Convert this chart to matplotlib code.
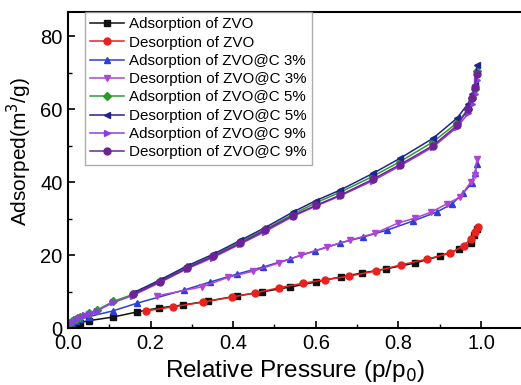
import matplotlib
matplotlib.use("Agg")
import matplotlib.pyplot as plt
from matplotlib.ticker import MultipleLocator, FormatStrFormatter

plt.rcParams['font.family'] = ['Liberation Sans', 'DejaVu Sans']

# ZVO
p_ads_zvo = [0.003, 0.01, 0.02, 0.03, 0.05, 0.109, 0.167, 0.22, 0.278, 0.34, 0.41, 0.47, 0.537, 0.60,
             0.66, 0.713, 0.77, 0.84, 0.90, 0.947, 0.976, 0.983, 0.99]
v_ads_zvo = [0.4, 0.8, 1.2, 1.5, 2.0, 3.0, 4.4, 5.5, 6.3, 7.4, 8.8, 9.9, 11.2, 12.6,
             14.0, 15.1, 16.2, 17.8, 19.7, 21.6, 23.3, 25.5, 27.0]
p_des_zvo = [0.993, 0.985, 0.975, 0.958, 0.925, 0.87, 0.806, 0.745, 0.68, 0.622, 0.57, 0.51, 0.453,
             0.397, 0.327, 0.254, 0.19]
v_des_zvo = [27.8, 26.2, 24.5, 22.5, 20.5, 18.9, 17.3, 15.6, 14.2, 13.2, 12.3, 11.0, 9.6,
             8.5, 7.1, 5.8, 4.7]

# ZVO@C 3%
p_ads_c3 = [0.003, 0.01, 0.02, 0.03, 0.05, 0.109, 0.167, 0.281, 0.344, 0.41, 0.472, 0.537, 0.598,
            0.659, 0.714, 0.772, 0.835, 0.893, 0.93, 0.957, 0.978, 0.986, 0.99]
v_ads_c3 = [0.8, 1.3, 1.9, 2.4, 3.1, 4.7, 6.8, 10.4, 12.6, 14.8, 16.7, 18.9, 21.1,
            23.3, 24.9, 26.8, 29.3, 31.8, 34.0, 37.0, 39.7, 42.5, 45.0]
p_des_c3 = [0.99, 0.985, 0.975, 0.95, 0.917, 0.88, 0.84, 0.80, 0.744, 0.683, 0.627, 0.564, 0.51,
            0.449, 0.388, 0.325, 0.215]
v_des_c3 = [46.3, 42.0, 40.0, 35.9, 34.0, 31.8, 30.1, 28.8, 26.0, 24.1, 22.2, 20.0, 17.8,
            15.6, 13.9, 11.3, 8.8]

# ZVO@C 5%
p_ads_c5 = [0.003, 0.01, 0.02, 0.03, 0.05, 0.07, 0.11, 0.157, 0.223, 0.288, 0.351, 0.417, 0.477,
            0.545, 0.60, 0.659, 0.739, 0.804, 0.884, 0.942, 0.969, 0.978, 0.985, 0.99]
v_ads_c5 = [1.0, 1.8, 2.5, 3.1, 4.1, 4.9, 7.3, 9.2, 12.9, 16.6, 19.8, 23.6, 27.0,
            31.2, 34.3, 37.2, 41.6, 45.6, 51.0, 56.2, 60.0, 63.0, 65.5, 70.5]
p_des_c5 = [0.99, 0.985, 0.978, 0.969, 0.942, 0.884, 0.804, 0.739, 0.659, 0.60, 0.545, 0.477,
            0.417, 0.351, 0.288, 0.223, 0.157]
v_des_c5 = [72.0, 66.5, 64.0, 61.5, 57.5, 52.0, 46.5, 42.4, 37.8, 34.9, 31.8, 27.5,
            24.0, 20.2, 17.0, 13.2, 9.6]

# ZVO@C 9%
p_ads_c9 = [0.003, 0.01, 0.02, 0.03, 0.04, 0.05, 0.07, 0.11, 0.157, 0.223, 0.288, 0.351, 0.417,
            0.477, 0.545, 0.60, 0.659, 0.739, 0.804, 0.884, 0.942, 0.969, 0.978, 0.985, 0.99]
v_ads_c9 = [1.0, 1.7, 2.4, 3.0, 3.5, 3.9, 4.7, 7.0, 8.9, 12.5, 16.2, 19.3, 23.0,
            26.4, 30.6, 33.4, 36.2, 40.4, 44.4, 49.6, 55.0, 58.8, 61.5, 64.0, 68.0]
p_des_c9 = [0.99, 0.985, 0.978, 0.969, 0.942, 0.884, 0.804, 0.739, 0.659, 0.60, 0.545, 0.477,
            0.417, 0.351, 0.288, 0.223, 0.157]
v_des_c9 = [69.5, 66.0, 63.0, 60.0, 55.5, 50.0, 44.8, 40.8, 36.4, 33.6, 30.8, 26.8,
            23.2, 19.6, 16.4, 12.7, 9.2]

series = [
    (p_ads_zvo, v_ads_zvo, 'Adsorption of ZVO', '#111111', 's'),
    (p_des_zvo, v_des_zvo, 'Desorption of ZVO', '#e8221e', 'o'),
    (p_ads_c3, v_ads_c3, 'Adsorption of ZVO@C 3%', '#2b3fd0', '^'),
    (p_des_c3, v_des_c3, 'Desorption of ZVO@C 3%', '#b044d4', 'v'),
    (p_ads_c5, v_ads_c5, 'Adsorption of ZVO@C 5%', '#2e9a2e', 'D'),
    (p_des_c5, v_des_c5, 'Desorption of ZVO@C 5%', '#23238f', '<'),
    (p_ads_c9, v_ads_c9, 'Adsorption of ZVO@C 9%', '#8e3ee0', '>'),
    (p_des_c9, v_des_c9, 'Desorption of ZVO@C 9%', '#6e2296', 'o'),
]

fig = plt.figure(figsize=(5.21, 3.85), dpi=100)
ax = fig.add_axes([0.1305, 0.148, 0.872, 0.821])

for p, v, lab, col, mk in series:
    ms = 5 if mk != 'D' else 4.2
    ax.plot(p, v, color=col, marker=mk, markersize=ms, linewidth=1.1, label=lab)

ax.set_xlim(0, 1.1)
ax.set_ylim(0, 86.6)
ax.xaxis.set_major_locator(MultipleLocator(0.2))
ax.xaxis.set_minor_locator(MultipleLocator(0.1))
ax.yaxis.set_major_locator(MultipleLocator(20))
ax.yaxis.set_minor_locator(MultipleLocator(10))
ax.tick_params(which='both', direction='in', top=False, right=False, labelsize=14.5)
ax.tick_params(axis='x', pad=4)
ax.tick_params(axis='y', pad=4)
ax.tick_params(which='major', length=5, width=1.2)
ax.tick_params(which='minor', length=3, width=1.0)
ax.xaxis.set_major_formatter(FormatStrFormatter('%.1f'))
for s in ax.spines.values():
    s.set_linewidth(1.5)

ax.set_xlabel('Relative Pressure (p/p$_0$)', fontsize=17.5, labelpad=4)
ax.set_ylabel('Adsorped(m$^3$/g)', fontsize=15)
ax.yaxis.set_label_coords(-0.075, 0.557)

leg = ax.legend(loc='upper left', bbox_to_anchor=(0.0375, 1.0), fontsize=10.9,
                frameon=True, fancybox=False, edgecolor='#999999', handlelength=2.2,
                labelspacing=0.285, borderpad=0.35, handletextpad=0.35, borderaxespad=0.0)
leg.get_frame().set_linewidth(1.0)

fig.savefig('out.png', dpi=100)
